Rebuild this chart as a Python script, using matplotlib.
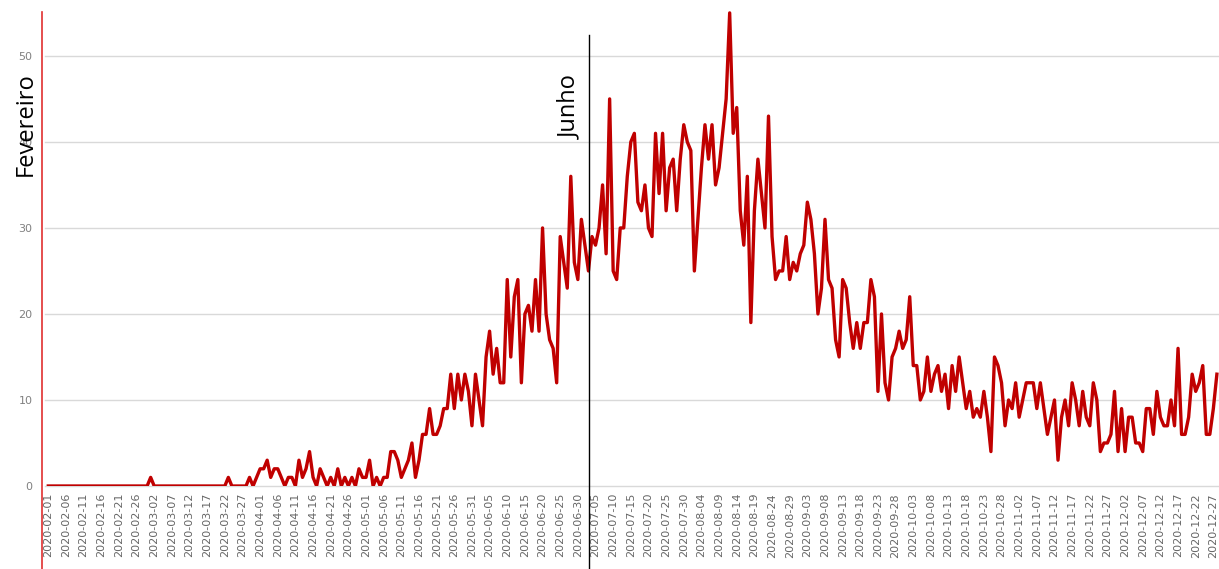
import matplotlib
matplotlib.use("Agg")
import matplotlib.pyplot as plt
from matplotlib.lines import Line2D
import pandas as pd

# daily counts, starting 2020-02-01
start_date = "2020-02-01"
values = [
    0, 0, 0, 0, 0, 0, 0, 0, 0, 0, 0, 0, 0, 0, 0, 0, 0, 0, 0, 0,
    0, 0, 0, 0, 0, 0, 0, 0, 0, 1, 0, 0, 0, 0, 0, 0, 0, 0, 0, 0,
    0, 0, 0, 0, 0, 0, 0, 0, 0, 0, 0, 1, 0, 0, 0, 0, 0, 1, 0, 1,
    2, 2, 3, 1, 2, 2, 1, 0, 1, 1, 0, 3, 1, 2, 4, 1, 0, 2, 1, 0,
    1, 0, 2, 0, 1, 0, 1, 0, 2, 1, 1, 3, 0, 1, 0, 1, 1, 4, 4, 3,
    1, 2, 3, 5, 1, 3, 6, 6, 9, 6, 6, 7, 9, 9, 13, 9, 13, 10, 13, 11,
    7, 13, 10, 7, 15, 18, 13, 16, 12, 12, 24, 15, 22, 24, 12, 20, 21, 18, 24, 18,
    30, 20, 17, 16, 12, 29, 26, 23, 36, 26, 24, 31, 28, 25, 29, 28, 30, 35, 27, 45,
    25, 24, 30, 30, 36, 40, 41, 33, 32, 35, 30, 29, 41, 34, 41, 32, 37, 38, 32, 38,
    42, 40, 39, 25, 31, 37, 42, 38, 42, 35, 37, 41, 45, 55, 41, 44, 32, 28, 36, 19,
    32, 38, 34, 30, 43, 29, 24, 25, 25, 29, 24, 26, 25, 27, 28, 33, 31, 27, 20, 23,
    31, 24, 23, 17, 15, 24, 23, 19, 16, 19, 16, 19, 19, 24, 22, 11, 20, 12, 10, 15,
    16, 18, 16, 17, 22, 14, 14, 10, 11, 15, 11, 13, 14, 11, 13, 9, 14, 11, 15, 12,
    9, 11, 8, 9, 8, 11, 8, 4, 15, 14, 12, 7, 10, 9, 12, 8, 10, 12, 12, 12,
    9, 12, 9, 6, 8, 10, 3, 8, 10, 7, 12, 10, 7, 11, 8, 7, 12, 10, 4, 5,
    5, 6, 11, 4, 9, 4, 8, 8, 5, 5, 4, 9, 9, 6, 11, 8, 7, 7, 10, 7,
    16, 6, 6, 8, 13, 11, 12, 14, 6, 6, 9, 13,
]
dates = pd.date_range(start_date, periods=len(values), freq="D")
tick_dates = dates[::5]
y_ticks = [0, 10, 20, 30, 40, 50]

W, H = 1219, 569
fig = plt.figure(figsize=(W / 100, H / 100), dpi=100)
ax = fig.add_axes([45 / W, (H - 486) / H, (W - 45) / W, 486 / H])

days = list(range(len(values)))
ax.plot(days, values, color="#c00000", lw=2.4, solid_joinstyle="round")

ax.set_xlim(-0.93, 331.6)
ax.set_ylim(0, 56.5)
ax.set_yticks(y_ticks)
ax.yaxis.grid(True, color="#d9d9d9", lw=1, clip_on=False)
ax.set_axisbelow(True)
tick_pos = [days[i] for i in range(0, len(days), 5)]
ax.set_xticks(tick_pos)
ax.set_xticklabels([d.strftime("%Y-%m-%d") for d in tick_dates], rotation=90)
ax.tick_params(axis="x", length=0, pad=5, labelsize=8, labelcolor="#666666")
ax.tick_params(axis="y", length=0, pad=9, labelsize=8, labelcolor="#808080")
for s in ax.spines.values():
    s.set_visible(False)

# annotations drawn over the screenshot
fig.add_artist(Line2D([42 / W, 42 / W], [0, 1 - 12 / H], color="#e03030", lw=1.2))
fig.add_artist(Line2D([589 / W, 589 / W], [0, 1 - 35 / H], color="black", lw=1))
fig.text(26 / W, 1 - 124 / H, "Fevereiro", rotation=90, ha="center", va="center",
         fontsize=17, family="Open Sans")
fig.text(570 / W, 1 - 107 / H, "Junho", rotation=90, ha="center", va="center",
         fontsize=17, family="Open Sans")

fig.savefig("out.png", dpi=100)
